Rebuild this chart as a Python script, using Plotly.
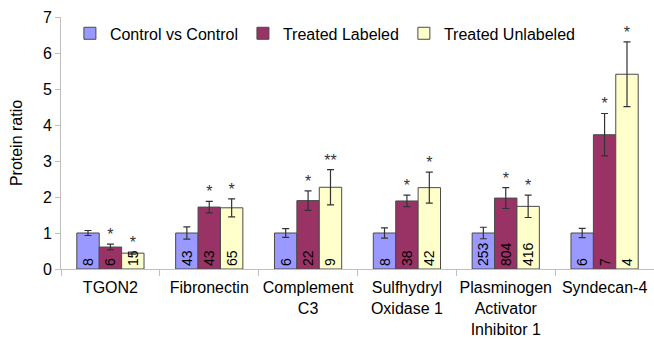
import plotly.graph_objects as go

categories = ["TGON2", "Fibronectin", "Complement<br>C3", "Sulfhydryl<br>Oxidase 1",
              "Plasminogen<br>Activator<br>Inhibitor 1", "Syndecan-4"]
series_names = ["Control vs Control", "Treated Labeled", "Treated Unlabeled"]

control_vals = [1.0, 1.0, 1.0, 1.0, 1.0, 1.0]
control_err = [0.07, 0.17, 0.12, 0.14, 0.16, 0.13]
control_n = ["8", "43", "6", "8", "253", "6"]
control_sig = ["", "", "", "", "", ""]

labeled_vals = [0.61, 1.72, 1.90, 1.89, 1.97, 3.73]
labeled_err = [0.08, 0.16, 0.27, 0.16, 0.29, 0.59]
labeled_n = ["6", "43", "22", "38", "804", "7"]
labeled_sig = ["*", "*", "*", "*", "*", "*"]

unlabeled_vals = [0.44, 1.70, 2.27, 2.26, 1.74, 5.41]
unlabeled_err = [0.03, 0.25, 0.49, 0.43, 0.31, 0.90]
unlabeled_n = ["15", "65", "9", "42", "416", "4"]
unlabeled_sig = ["*", "*", "**", "*", "*", "*"]

colors = ["#9999FF", "#993366", "#FFFFCC"]
FONT = "Liberation Sans, Arial"

fig = go.Figure()
data = [
    (control_vals, control_err, control_n, control_sig),
    (labeled_vals, labeled_err, labeled_n, labeled_sig),
    (unlabeled_vals, unlabeled_err, unlabeled_n, unlabeled_sig),
]
for i, (vals, errs, ns, sigs) in enumerate(data):
    fig.add_trace(go.Bar(
        x=categories, y=vals, name=series_names[i], offsetgroup=str(i),
        marker=dict(color=colors[i], line=dict(color="#4a4a4a", width=1)),
        error_y=dict(type="data", array=errs, color="#333333", thickness=1.2, width=3.5),
        text=ns, textposition="inside", insidetextanchor="start", textangle=-90,
        constraintext="none",
        textfont=dict(size=14, color="#000000", family=FONT),
    ))
for i, (vals, errs, ns, sigs) in enumerate(data):
    fig.add_trace(go.Scatter(
        x=categories, y=[v + e for v, e in zip(vals, errs)], mode="text",
        text=sigs, textposition="top center", offsetgroup=str(i),
        textfont=dict(size=16, color="#333333", family=FONT),
        showlegend=False, hoverinfo="skip", cliponaxis=False,
    ))

fig.update_layout(
    width=654, height=339,
    margin=dict(l=61, r=0, t=17, b=70),
    barmode="group", scattermode="group", bargap=0.32, bargroupgap=0,
    plot_bgcolor="white", paper_bgcolor="white",
    font=dict(family=FONT, size=16, color="#000000"),
    legend=dict(orientation="h", x=0.015, y=0.935, xanchor="left", yanchor="middle",
                font=dict(size=16), itemwidth=30, bgcolor="rgba(0,0,0,0)",
                traceorder="normal"),
    uniformtext=dict(mode=False),
)
fig.update_yaxes(range=[0, 7], dtick=1, showgrid=False, showline=True, linecolor="#BFBFBF",
                 ticks="outside", ticklen=5, tickcolor="#BFBFBF", zeroline=False,
                 automargin=False,
                 title=dict(text="Protein ratio", font=dict(size=16), standoff=16),
                 tickfont=dict(size=16))
fig.update_xaxes(showline=True, linecolor="#BFBFBF", ticks="outside", tickson="boundaries",
                 automargin=False, ticklabelstandoff=4,
                 ticklen=6, tickcolor="#BFBFBF", tickfont=dict(size=16), tickangle=0)

fig.write_html("out.html", config={"displayModeBar": False},
               post_script="document.body.style.margin='0';document.body.style.overflow='hidden';")
